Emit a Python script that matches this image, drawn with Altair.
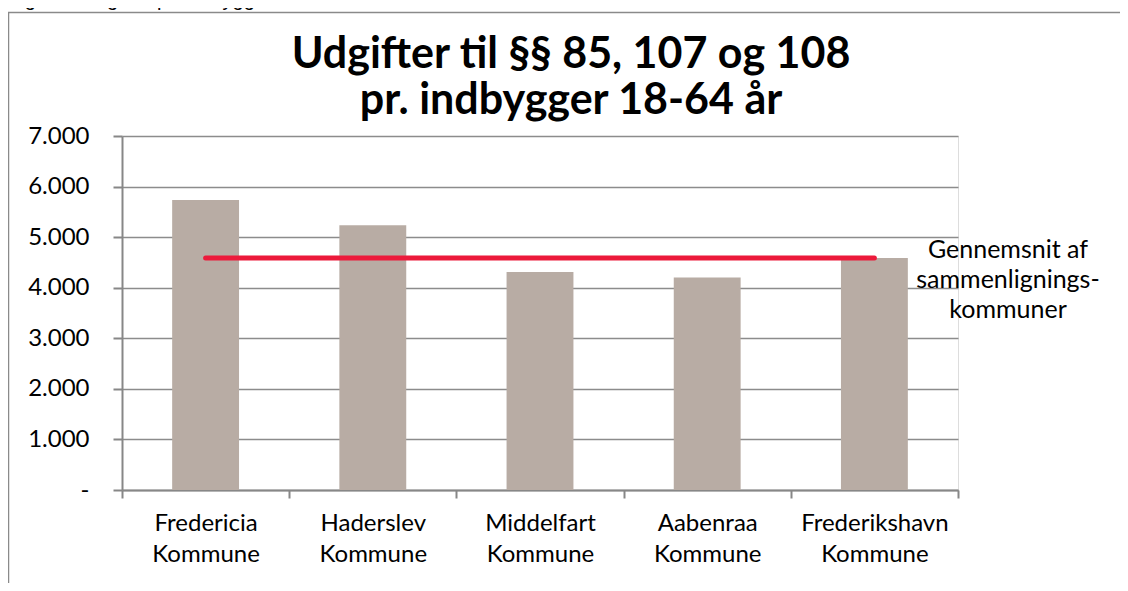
import altair as alt
import pandas as pd

# ---- data ----
categories = ["Fredericia Kommune", "Haderslev Kommune", "Middelfart Kommune",
              "Aabenraa Kommune", "Frederikshavn Kommune"]
values = [5735, 5235, 4310, 4200, 4590]
average_value = 4590
average_label = ["Gennemsnit af", "sammenlignings-", "kommuner"]
title_lines = ["Udgifter til §§ 85, 107 og 108", "pr. indbygger 18-64 år"]
caption = "Figur 7: Udgifter pr. indbygger 18-64 år"
y_ticks = [0, 1000, 2000, 3000, 4000, 5000, 6000, 7000]

bars_df = pd.DataFrame({"kommune": categories, "udgift": values})
avg_df = pd.DataFrame({"start": [categories[0]], "end": [categories[-1]], "avg": [average_value]})
one_df = pd.DataFrame({"k": [0]})

FONT = "Lato"
AXIS_GRAY = "#878787"
PLOT_W, PLOT_H = 836, 354

x_scale = alt.Scale(domain=categories, paddingInner=0, paddingOuter=0)
y_scale = alt.Scale(domain=[0, 7000], nice=False)

frame = alt.Chart(one_df).mark_rect(filled=False, stroke="#8a8a8a", strokeWidth=1.5).encode(
    x=alt.value(-113.5), x2=alt.value(1010), y=alt.value(-123.5), y2=alt.value(470)
)

bars = alt.Chart(bars_df).mark_bar(color="#b8aca4", width=alt.RelativeBandSize(0.4)).encode(
    x=alt.X("kommune:N", sort=categories, scale=x_scale,
            axis=alt.Axis(title=None, labelAngle=0, labelExpr="split(datum.label, ' ')",
                          tickBand="extent", tickSize=8, labelPadding=13,
                          labelFontSize=24, labelFont=FONT, labelColor="black",
                          labelLineHeight=31, labelBaseline="top",
                          domainColor=AXIS_GRAY, domainWidth=2,
                          tickColor=AXIS_GRAY, tickWidth=2, grid=False)),
    y=alt.Y("udgift:Q", scale=y_scale,
            axis=alt.Axis(title=None, values=y_ticks,
                          labelExpr="datum.value == 0 ? '-' : replace(format(datum.value, ','), ',', '.')",
                          tickSize=9, labelPadding=24, labelFontSize=24, labelFont=FONT,
                          labelColor="black", domainColor=AXIS_GRAY, domainWidth=2,
                          tickColor=AXIS_GRAY, tickWidth=2,
                          grid=True, gridColor="#8c8c8c", gridWidth=1.5)),
)

avg_rule = alt.Chart(avg_df).mark_rule(color="#ec1a3b", strokeWidth=5, strokeCap="round").encode(
    x=alt.X("start:N", sort=categories, scale=x_scale, title=None),
    x2="end:N",
    y=alt.Y("avg:Q", scale=y_scale, title=None),
)

avg_text = alt.Chart(one_df).mark_text(
    text="\n".join(average_label), lineBreak="\n", lineHeight=30,
    font=FONT, fontSize=25, color="black", align="center", baseline="alphabetic"
).encode(x=alt.value(886), y=alt.value(122))

title_text = alt.Chart(one_df).mark_text(
    text="\n".join(title_lines), lineBreak="\n", lineHeight=46,
    font=FONT, fontSize=43, fontWeight="bold", color="black", align="center", baseline="alphabetic"
).encode(x=alt.value(449), y=alt.value(-68))

caption_text = alt.Chart(one_df).mark_text(
    text=caption, font="Liberation Sans", fontSize=20, color="black",
    align="left", baseline="alphabetic"
).encode(x=alt.value(-114), y=alt.value(-130))

chart = alt.layer(frame, bars, avg_rule, avg_text, title_text, caption_text).properties(
    width=PLOT_W, height=PLOT_H,
    autosize=alt.AutoSizeParams(type="none"),
    padding={"left": 114, "top": 128, "right": 162, "bottom": 93},
).configure_view(strokeWidth=0).configure(background="white")

chart.save("out.html", embed_options={"renderer": "svg", "actions": False})
